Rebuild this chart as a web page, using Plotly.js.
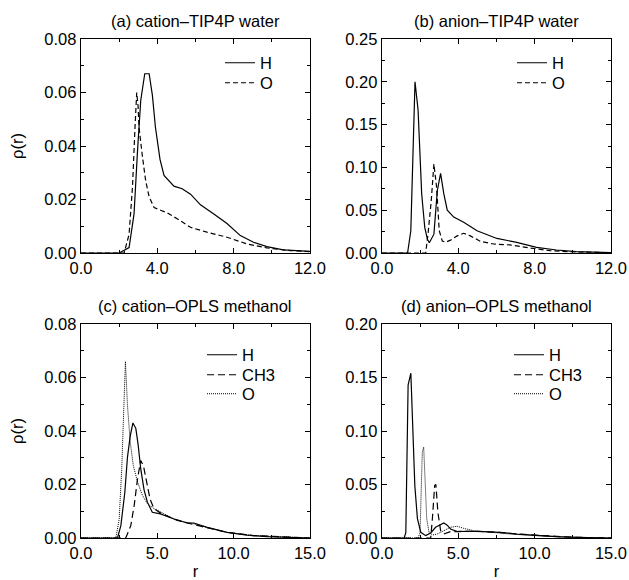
<!DOCTYPE html>
<html>
<head>
<meta charset="utf-8">
<script src="https://cdn.plot.ly/plotly-3.0.1.min.js"></script>
<style>html,body{margin:0;padding:0;background:#fff;}#chart{width:629px;height:580px;}</style>
</head>
<body>
<div id="chart"></div>
<script>
// ---- Data ----
// (a) cation–TIP4P water
const a_H_r = [0, 2.0, 2.52, 2.78, 2.96, 3.13, 3.34, 3.57, 3.74, 3.9, 4.14, 4.35, 4.87, 5.3, 5.74, 6.26, 6.96, 7.65, 8.35, 9.04, 9.74, 10.6, 12.0];
const a_H_v = [0, 0, 0.002, 0.0146, 0.038, 0.057, 0.067, 0.067, 0.059, 0.047, 0.035, 0.029, 0.025, 0.024, 0.022, 0.018, 0.0146, 0.011, 0.0065, 0.004, 0.0024, 0.0012, 0.0006];
const a_O_r = [0, 2.26, 2.52, 2.7, 2.83, 2.92, 2.99, 3.04, 3.22, 3.39, 3.57, 3.83, 4.17, 4.52, 5.04, 5.74, 6.6, 7.65, 8.7, 9.74, 10.96, 12.0];
const a_O_v = [0, 0, 0.007, 0.025, 0.047, 0.060, 0.055, 0.047, 0.036, 0.027, 0.021, 0.017, 0.016, 0.015, 0.0128, 0.0096, 0.0078, 0.0059, 0.0034, 0.0019, 0.0009, 0.0005];
// (b) anion–TIP4P water
const b_H_r = [0, 1.34, 1.51, 1.73, 1.89, 2.08, 2.24, 2.38, 2.48, 2.72, 2.9, 3.07, 3.24, 3.42, 3.76, 4.28, 4.98, 6.02, 7.06, 8.1, 9.14, 10.18, 12.0];
const b_H_v = [0, 0, 0.026, 0.200, 0.167, 0.069, 0.030, 0.016, 0.012, 0.022, 0.073, 0.093, 0.069, 0.050, 0.042, 0.036, 0.026, 0.017, 0.0125, 0.0066, 0.0035, 0.0016, 0.0004];
const b_O_r = [0, 2.29, 2.41, 2.58, 2.72, 2.86, 3.0, 3.16, 3.33, 3.59, 3.94, 4.28, 4.63, 5.15, 5.84, 6.71, 7.75, 8.79, 10.18, 12.0];
const b_O_v = [0, 0, 0.022, 0.061, 0.104, 0.077, 0.026, 0.014, 0.0125, 0.015, 0.020, 0.023, 0.020, 0.0137, 0.0105, 0.0094, 0.0059, 0.0027, 0.0012, 0.0004];
// (c) cation–OPLS methanol
const c_H_r = [0, 2.39, 2.61, 2.87, 3.04, 3.22, 3.4, 3.59, 3.74, 3.91, 4.13, 4.35, 4.67, 5.2, 6.09, 6.96, 7.39, 8.26, 9.57, 10.87, 12.17, 15.0];
const c_H_v = [0, 0, 0.0046, 0.017, 0.030, 0.038, 0.043, 0.041, 0.035, 0.026, 0.018, 0.0134, 0.0096, 0.009, 0.0071, 0.0056, 0.0056, 0.004, 0.0021, 0.0011, 0.0005, 0];
const c_CH3_r = [0, 2.93, 3.26, 3.48, 3.7, 3.91, 4.09, 4.3, 4.52, 4.78, 5.22, 6.09, 6.96, 7.83, 9.57, 11.3, 15.0];
const c_CH3_v = [0, 0, 0.0046, 0.012, 0.022, 0.029, 0.027, 0.021, 0.0146, 0.011, 0.0093, 0.0071, 0.0056, 0.0044, 0.0021, 0.0009, 0];
const c_O_r = [0, 2.28, 2.5, 2.67, 2.83, 2.91, 3.04, 3.22, 3.43, 3.7, 4.02, 4.35, 4.78, 5.43, 6.3, 7.17, 8.26, 9.57, 11.3, 15.0];
const c_O_v = [0, 0, 0.007, 0.026, 0.053, 0.066, 0.050, 0.036, 0.027, 0.021, 0.016, 0.0128, 0.011, 0.009, 0.0065, 0.0056, 0.004, 0.0021, 0.0009, 0];
// (d) anion–OPLS methanol
const d_H_r = [0, 1.45, 1.56, 1.71, 1.89, 1.99, 2.15, 2.32, 2.54, 2.86, 3.19, 3.51, 3.84, 4.05, 4.27, 4.49, 4.92, 5.57, 6.66, 7.74, 8.82, 10.12, 11.42, 12.72, 15.0];
const d_H_v = [0, 0, 0.005, 0.143, 0.154, 0.112, 0.049, 0.018, 0.0053, 0.0022, 0.0047, 0.010, 0.012, 0.014, 0.012, 0.0084, 0.006, 0.0063, 0.006, 0.0053, 0.0037, 0.0022, 0.0012, 0.0006, 0];
const d_CH3_r = [0, 3.19, 3.3, 3.45, 3.53, 3.66, 3.84, 4.05, 4.49, 5.14, 6.22, 7.52, 8.82, 10.56, 12.72, 15.0];
const d_CH3_v = [0, 0, 0.018, 0.049, 0.050, 0.024, 0.0069, 0.0037, 0.006, 0.006, 0.0063, 0.0053, 0.0037, 0.0022, 0.0006, 0];
const d_O_r = [0, 2.36, 2.49, 2.64, 2.73, 2.82, 2.93, 3.08, 3.3, 3.62, 4.05, 4.49, 4.92, 5.35, 6.0, 7.09, 8.39, 10.12, 11.85, 15.0];
const d_O_v = [0, 0, 0.005, 0.080, 0.085, 0.049, 0.018, 0.0053, 0.0028, 0.0037, 0.0069, 0.010, 0.011, 0.009, 0.0069, 0.0053, 0.0037, 0.0022, 0.0009, 0];

const panelTitles = ["(a) cation\u2013TIP4P water", "(b) anion\u2013TIP4P water", "(c) cation\u2013OPLS methanol", "(d) anion\u2013OPLS methanol"];
const yTitle = "\u03c1(r)";
const xTitle = "r";

// ---- Styling ----
const FONT = "Liberation Sans, Arial, Helvetica, sans-serif";
const FS = 16.5;
const SOLID = {color: "#000", width: 1.2, dash: "solid"};
const DASH_W = {color: "#000", width: 1.2, dash: "5px,3px"};
const DASH_M = {color: "#000", width: 1.2, dash: "7px,4px"};
const DOT = {color: "#000", width: 1, dash: "1px,1px"};

function tr(x, y, name, line, xa, ya, lg) {
  return {x: x, y: y, name: name, type: "scatter", mode: "lines", line: line,
          xaxis: xa, yaxis: ya, legend: lg, hoverinfo: "skip"};
}

const data = [
  tr(a_H_r, a_H_v, "H", SOLID, "x", "y", "legend"),
  tr(a_O_r, a_O_v, "O", DASH_W, "x", "y", "legend2"),
  tr(b_H_r, b_H_v, "H", SOLID, "x2", "y2", "legend3"),
  tr(b_O_r, b_O_v, "O", DASH_W, "x2", "y2", "legend4"),
  tr(c_H_r, c_H_v, "H", SOLID, "x3", "y3", "legend5"),
  tr(c_CH3_r, c_CH3_v, "CH3", DASH_M, "x3", "y3", "legend6"),
  tr(c_O_r, c_O_v, "O", DOT, "x3", "y3", "legend7"),
  tr(d_H_r, d_H_v, "H", SOLID, "x4", "y4", "legend8"),
  tr(d_CH3_r, d_CH3_v, "CH3", DASH_M, "x4", "y4", "legend9"),
  tr(d_O_r, d_O_v, "O", DOT, "x4", "y4", "legend10")
];

const W = 629, H = 580;
const px = v => v / W;
const py = v => (H - v) / H;

const colL = [px(81), px(310)], colR = [px(382), px(611)];
const rowT = [py(253), py(39)], rowB = [py(538), py(324)];

function xax(domain, anchor, maxv, dt, title) {
  const o = {domain: domain, anchor: anchor, range: [0, maxv], dtick: dt, tick0: 0,
    tickformat: ".1f", ticks: "inside", ticklen: 5, tickwidth: 1, tickcolor: "#000",
    showline: true, linecolor: "#000", linewidth: 1.3, mirror: "ticks",
    showgrid: false, zeroline: false, fixedrange: true,
    tickfont: {family: FONT, size: FS, color: "#000"},
    minor: {dtick: dt / 2, tick0: 0, ticks: "inside", ticklen: 3, tickcolor: "#000", tickwidth: 1, showgrid: false}};
  if (title) o.title = {text: title, font: {family: FONT, size: FS, color: "#000"}, standoff: 4};
  return o;
}
function yax(domain, anchor, maxv, dt, title) {
  const o = {domain: domain, anchor: anchor, range: [0, maxv], dtick: dt, tick0: 0,
    tickformat: ".2f", ticks: "inside", ticklen: 5, tickwidth: 1, tickcolor: "#000",
    showline: true, linecolor: "#000", linewidth: 1.3, mirror: "ticks",
    showgrid: false, zeroline: false, fixedrange: true,
    tickfont: {family: FONT, size: FS, color: "#000"},
    minor: {dtick: dt / 2, tick0: 0, ticks: "inside", ticklen: 3, tickcolor: "#000", tickwidth: 1, showgrid: false}};
  if (title) o.title = {text: title, font: {family: FONT, size: FS, color: "#000"}, standoff: 16};
  return o;
}
function leg(xl, yc) {
  return {x: px(xl), y: py(yc), xanchor: "left", yanchor: "middle", bgcolor: "rgba(0,0,0,0)",
    borderwidth: 0, font: {family: FONT, size: FS, color: "#000"},
    itemclick: false, itemdoubleclick: false};
}
function ttl(text, xc, yc) {
  return {text: text, xref: "paper", yref: "paper", x: px(xc), y: py(yc), xanchor: "center", yanchor: "middle",
    showarrow: false, font: {family: FONT, size: FS, color: "#000"}};
}

const layout = {
  width: W, height: H, margin: {l: 0, r: 0, t: 0, b: 0},
  paper_bgcolor: "#fff", plot_bgcolor: "#fff",
  font: {family: FONT, size: FS, color: "#000"},
  showlegend: true,
  xaxis: xax(colL, "y", 12, 4, null),
  yaxis: yax(rowT, "x", 0.08, 0.02, yTitle),
  xaxis2: xax(colR, "y2", 12, 4, null),
  yaxis2: yax(rowT, "x2", 0.25, 0.05, null),
  xaxis3: xax(colL, "y3", 15, 5, xTitle),
  yaxis3: yax(rowB, "x3", 0.08, 0.02, yTitle),
  xaxis4: xax(colR, "y4", 15, 5, xTitle),
  yaxis4: yax(rowB, "x4", 0.2, 0.05, null),
  legend: leg(220, 63),
  legend2: leg(220, 83),
  legend3: leg(512, 63),
  legend4: leg(512, 83),
  legend5: leg(202, 355),
  legend6: leg(202, 375),
  legend7: leg(202, 394),
  legend8: leg(509, 355),
  legend9: leg(509, 375),
  legend10: leg(509, 394),
  annotations: [
    ttl(panelTitles[0], 195, 21),
    ttl(panelTitles[1], 496, 21),
    ttl(panelTitles[2], 195, 306),
    ttl(panelTitles[3], 496, 306)
  ]
};

Plotly.newPlot("chart", data, layout, {displayModeBar: false, staticPlot: true});
</script>
</body>
</html>
